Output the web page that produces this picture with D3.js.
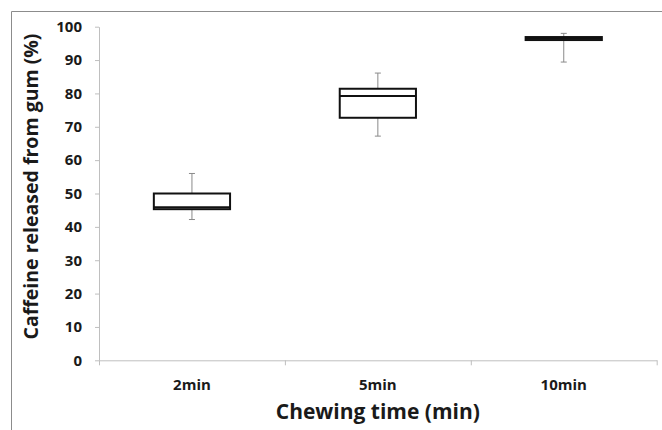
<!DOCTYPE html>
<html>
<head>
<meta charset="utf-8">
<script src="https://cdn.jsdelivr.net/npm/d3@7"></script>
<style>
  body { margin: 0; background: #fff; }
  svg { display: block; }
  .axis path, .axis line { stroke: #bfbfbf; }
</style>
</head>
<body>
<div id="chart"></div>
<script>
// chewing time groups and box plot values (% caffeine released)
var categories = ['2min', '5min', '10min'];
var whiskerLow = [42.2, 67.2, 89.4];
var q1 = [45.3, 72.7, 96.0];
var median = [45.9, 79.2, 96.5];
var q3 = [50.0, 81.4, 96.9];
var whiskerHigh = [56.0, 86.1, 98.0];
var yTicks = [0, 10, 20, 30, 40, 50, 60, 70, 80, 90, 100];

var W = 662, H = 430;
var margin = { top: 26.7, right: 5.3, bottom: 69.7, left: 99 };
var width = W - margin.left - margin.right;
var height = H - margin.top - margin.bottom;
var font = '"Open Sans", sans-serif';

var svg = d3.select('#chart').append('svg')
  .attr('width', W)
  .attr('height', H);

// outer frame (top and left edges visible)
svg.append('path')
  .attr('d', 'M11.5,' + H + 'V11.5H' + W)
  .attr('fill', 'none')
  .attr('stroke', '#8c8c8c')
  .attr('stroke-width', 1);

var g = svg.append('g')
  .attr('transform', 'translate(' + margin.left + ',' + margin.top + ')');

var x = d3.scaleBand().domain(categories).range([0, width]);
var y = d3.scaleLinear().domain([0, 100]).range([height, 0]);

var yAxis = g.append('g')
  .attr('class', 'axis')
  .call(d3.axisLeft(y).tickValues(yTicks).tickSize(4).tickSizeOuter(0).tickPadding(13));

var xAxis = g.append('g')
  .attr('class', 'axis')
  .attr('transform', 'translate(0,' + height + ')')
  .call(d3.axisBottom(x).tickSize(0).tickSizeOuter(0).tickPadding(19));

g.selectAll('.axis')
  .attr('font-family', font)
  .attr('font-size', 15)
  .attr('font-weight', 'bold');
g.selectAll('.axis text').attr('fill', '#1a1a1a');

// tick marks between categories
var bounds = categories.map(function(c) { return x(c); }).concat([x.range()[1]]);
xAxis.selectAll('.sep')
  .data(bounds)
  .enter().append('line')
  .attr('class', 'sep')
  .attr('x1', function(d) { return d + 0.5; })
  .attr('x2', function(d) { return d + 0.5; })
  .attr('y1', 0)
  .attr('y2', 5);

var boxW = x.bandwidth() * 0.41;
var capW = 6;

var boxes = g.selectAll('g.box')
  .data(categories)
  .enter().append('g')
  .attr('class', 'box')
  .attr('transform', function(d) { return 'translate(' + (x(d) + x.bandwidth() / 2) + ',0)'; });

// whiskers
boxes.append('line')
  .attr('x1', 0).attr('x2', 0)
  .attr('y1', function(d, i) { return y(whiskerHigh[i]); })
  .attr('y2', function(d, i) { return y(q3[i]); })
  .attr('stroke', '#8a8a8a');
boxes.append('line')
  .attr('x1', 0).attr('x2', 0)
  .attr('y1', function(d, i) { return y(q1[i]); })
  .attr('y2', function(d, i) { return y(whiskerLow[i]); })
  .attr('stroke', '#8a8a8a');
boxes.append('line')
  .attr('x1', -capW / 2).attr('x2', capW / 2)
  .attr('y1', function(d, i) { return y(whiskerHigh[i]); })
  .attr('y2', function(d, i) { return y(whiskerHigh[i]); })
  .attr('stroke', '#8a8a8a');
boxes.append('line')
  .attr('x1', -capW / 2).attr('x2', capW / 2)
  .attr('y1', function(d, i) { return y(whiskerLow[i]); })
  .attr('y2', function(d, i) { return y(whiskerLow[i]); })
  .attr('stroke', '#8a8a8a');

// boxes
boxes.append('rect')
  .attr('x', -boxW / 2)
  .attr('width', boxW)
  .attr('y', function(d, i) { return y(q3[i]); })
  .attr('height', function(d, i) { return y(q1[i]) - y(q3[i]); })
  .attr('fill', '#fff')
  .attr('stroke', '#111')
  .attr('stroke-width', 2);
boxes.append('line')
  .attr('x1', -boxW / 2).attr('x2', boxW / 2)
  .attr('y1', function(d, i) { return y(median[i]); })
  .attr('y2', function(d, i) { return y(median[i]); })
  .attr('stroke', '#111')
  .attr('stroke-width', 2);

// axis titles
svg.append('text')
  .attr('x', margin.left + width / 2)
  .attr('y', 419)
  .attr('text-anchor', 'middle')
  .attr('font-family', font)
  .attr('font-size', 21)
  .attr('font-weight', 'bold')
  .attr('fill', '#1a1a1a')
  .text('Chewing time (min)');

svg.append('text')
  .attr('transform', 'translate(38,186.5) rotate(-90)')
  .attr('text-anchor', 'middle')
  .attr('font-family', font)
  .attr('font-size', 19.5)
  .attr('font-weight', 'bold')
  .attr('fill', '#1a1a1a')
  .text('Caffeine released from gum (%)');
</script>
</body>
</html>
